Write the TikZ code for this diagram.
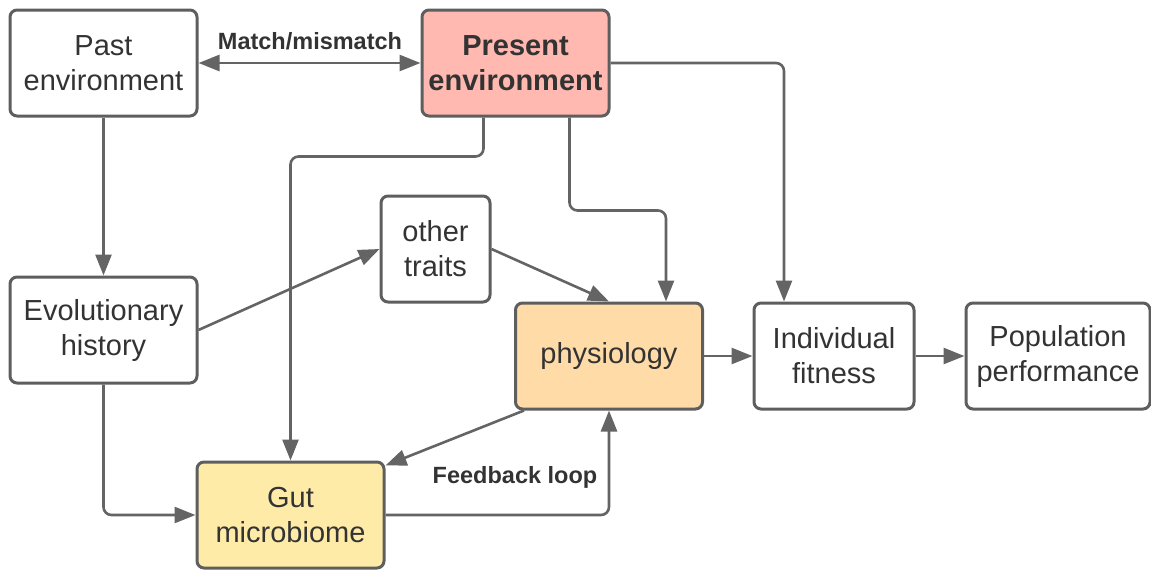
\documentclass[tikz,border=0pt]{standalone}
\usepackage{fontspec}
\setmainfont{Liberation Sans}
\usetikzlibrary{arrows.meta,calc,positioning}
\definecolor{boxline}{HTML}{5E5E5E}
\definecolor{arrowgray}{HTML}{646464}
\definecolor{txtgray}{HTML}{333333}
\definecolor{presentfill}{HTML}{FFB9B1}
\definecolor{physfill}{HTML}{FFDBA8}
\definecolor{gutfill}{HTML}{FFEBA8}
\tikzset{
	box/.style={draw=boxline, line width=3pt, rounded corners=7pt, fill=white, text=txtgray, align=center, minimum width=187pt, minimum height=106pt, inner sep=0pt, font=\fontsize{29}{35}\selectfont},
	link/.style={draw=arrowgray, line width=2.6pt, rounded corners=8pt, -{Triangle[length=21pt,width=16pt]}},
	tag/.style={text=txtgray, font=\bfseries\fontsize{23.5}{28}\selectfont},
}

\begin{document}
\begin{tikzpicture}[x=1pt, y=-1pt]
			%%%%% START %%%%%
			\useasboundingbox (0, 0) rectangle (1151, 571);
			
			\node[box] (past) at (103.5, 63) {Past\\environment};
			\node[box, fill=presentfill, font=\bfseries\fontsize{29}{35}\selectfont] (present) at (515.5, 63) {Present\\environment};
			\node[box, minimum width=109pt] (traits) at (435.5, 249) {other\\traits};
			\node[box] (evo) at (103.5, 330) {Evolutionary\\history};
			\node[box, fill=physfill] (phys) at (609, 356) {physiology};
			\node[box, minimum width=160pt] (fitness) at (834, 356) {Individual\\fitness};
			\node[box, minimum width=184pt] (pop) at (1058, 356) {Population\\performance};
			\node[box, fill=gutfill] (gut) at (290.5, 515) {Gut\\microbiome};
			
			\draw[link, {Triangle[length=21pt,width=16pt]}-{Triangle[length=21pt,width=16pt]}] (past.east) -- (present.west);
			\node[tag] (matchtag) at (310, 41) {Match/mismatch};
			
			\draw[link] (past.south) -- (evo.north);
			\draw[link] ([xshift=-32pt]present.south) -- ++(0, 39) -| (gut.north);
			\draw[link] ([xshift=54pt]present.south) -- ++(0, 93) -| ([xshift=57pt]phys.north);
			\draw[link] (present.east) -| ([xshift=-50pt]fitness.north);
			
			\draw[link] (evo.east) -- (traits.west);
			\draw[link] (traits.east) -- (phys.north);
			\draw[link] (evo.south) |- (gut.west);
			
			\draw[link] ([xshift=10pt]phys.south west) -- ([yshift=-5pt]gut.north east);
			\draw[link] (gut.east) -| (phys.south);
			\node[tag] (feedtag) at (515, 477) {Feedback loop};
			
			\draw[link] (phys.east) -- (fitness.west);
			\draw[link] (fitness.east) -- (pop.west);
			%%%%% END %%%%%
\end{tikzpicture}
\end{document}
